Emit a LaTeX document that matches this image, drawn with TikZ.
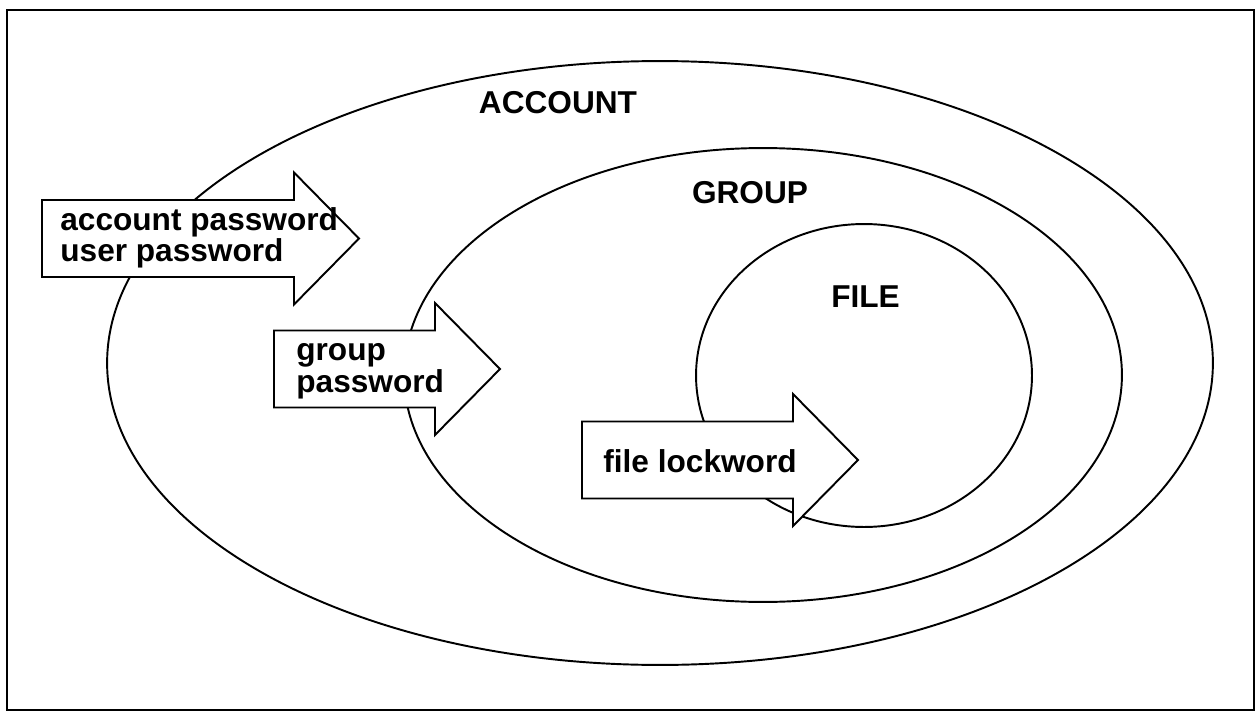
\documentclass[tikz,border=0pt]{standalone}
\usepackage{fontspec}
\setmainfont{Liberation Sans}
\usetikzlibrary{shapes.geometric}

% block arrow: left x, middle y, head base x, tip x
\newcommand{\blkarrow}[4]{%
  \draw[blk] (#1,#2-38.5) -- (#3,#2-38.5) -- (#3,#2-66) -- (#4,#2)
    -- (#3,#2+66) -- (#3,#2+38.5) -- (#1,#2+38.5) -- cycle;}

\begin{document}
\begin{tikzpicture}[x=0.02cm, y=-0.02cm,
  ring/.style={ellipse,draw,line width=1.1pt,inner sep=0pt,outer sep=0pt},
  blk/.style={draw,fill=white,line width=1.1pt,line join=miter},
  lbl/.style={anchor=base,inner sep=0pt,font=\fontsize{18}{17}\selectfont\bfseries},
  txt/.style={anchor=base west,inner sep=0pt,font=\fontsize{18}{17}\selectfont\bfseries}]
  \fill[white] (0,0) rectangle (1257,713);
  \useasboundingbox (0,0) rectangle (1257,713);
  \draw[line width=1.1pt] (7,10) rectangle (1254,710);

  % nested scopes
  \node[ring,minimum width=22.12cm,minimum height=12.08cm] (account) at (660,363) {};
  \node[ring,minimum width=14.36cm,minimum height=9.08cm] (group) at (763,375) {};
  \node[ring,minimum width=6.72cm,minimum height=6.06cm] (file) at (864,375.5) {};

  \node[lbl] (laccount) at (558,113) {ACCOUNT};
  \node[lbl] (lgroup) at (750,203) {GROUP};
  \node[lbl] (lfile) at (865.5,307) {FILE};

  % the three keys
  \blkarrow{42}{238.5}{294}{359}
  \blkarrow{274}{369}{435}{500}
  \blkarrow{582}{460}{793}{858}

  \node[txt] (accpw) at (60,230) {account password};
  \node[txt] (userpw) at (60,261) {user password};
  \node[txt] (grp) at (296,360) {group};
  \node[txt] (grppw) at (296,392) {password};
  \node[txt] (filelw) at (603,472) {file lockword};
\end{tikzpicture}
\end{document}
